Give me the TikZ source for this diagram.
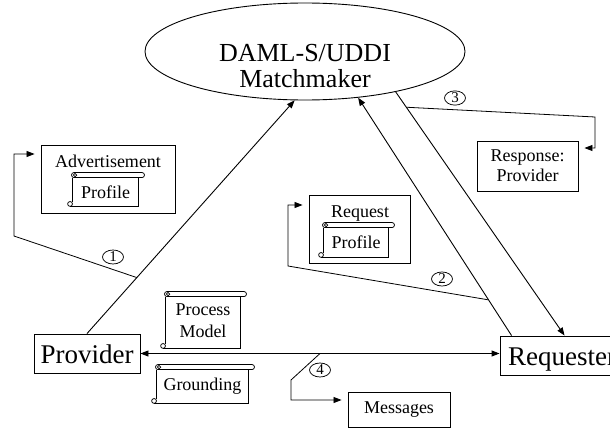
\documentclass[tikz,border=0pt]{standalone}
\usepackage{fontspec}
\setmainfont{Liberation Serif}
\usetikzlibrary{shapes.geometric,arrows.meta,calc}
\newcommand\scrolldeco[1]{%
  \draw[thinline, rounded corners=2.4pt] ($(#1.north west)+(-1,-5)$) rectangle ($(#1.north east)+(6,0)$);
  \draw[thinline] ($(#1.north west)+(2.5,-2.5)$) circle[radius=1.7pt];
  \draw[thinline] (#1.north west) -- ($(#1.south west)+(0,-4)$);
  \draw[thinline] ($(#1.south west)+(-2.5,-2.5)$) circle[radius=2.4pt];
  \draw[thinline] ($(#1.south west)+(-2.5,0)$) -- (#1.south east) -- (#1.north east);
}
\begin{document}
\begin{tikzpicture}[x=1pt,y=-1pt,line width=0.9pt,
  box/.style={draw, rectangle, inner sep=0pt},
  big/.style={font=\fontsize{27}{29}\selectfont},
  mid/.style={font=\fontsize{18}{20}\selectfont},
  thinline/.style={line width=0.75pt},
  num/.style={draw, ellipse, minimum width=21pt, minimum height=14pt, inner sep=0pt, line width=0.75pt, font=\fontsize{15}{15}\selectfont},
  tip/.tip={Triangle[length=8pt,width=6pt]},
  arr/.style={-tip},
  call/.style={-tip, shorten >=6pt, line width=0.8pt},
  scrollbody/.style={inner sep=0pt, font=\fontsize{18}{22}\selectfont, align=center}
]
\useasboundingbox (0,0) rectangle (610,428);

% main nodes
\node[draw, ellipse, minimum width=320pt, minimum height=97pt, inner sep=0pt] (mm) at (305,51.5) {};
\node[font=\fontsize{26}{26}\selectfont, align=center, anchor=base] (mmtext) at (305,88) {DAML-S/UDDI\\Matchmaker};
\node[box, big, text height=29pt, text depth=10pt, minimum width=106pt, anchor=base] (prov) at (87,363) {Provider};
\node[box, big, text height=29pt, text depth=10pt, minimum width=124pt, anchor=base] (req) at (562,365) {Requester};

% boxes
\node[box, minimum width=134pt, minimum height=68pt] (adv) at (108,179) {};
\node[mid, anchor=base] (advtext) at (108,167) {Advertisement};
\node[box, minimum width=101pt, minimum height=68pt] (reqbox) at (359.5,229) {};
\node[mid, anchor=base] (reqtext) at (360,217) {Request};
\node[box, mid, align=center, minimum width=101pt, minimum height=50pt] (resp) at (527.5,166) {Response:\\Provider};
\node[box, mid, minimum width=102pt, minimum height=35pt] (mess) at (399,409.5) {Messages};

% scrolls
\node[scrollbody, minimum width=65pt, minimum height=28pt] (advprof) at (105.5,192) {Profile};
\scrolldeco{advprof}
\node[scrollbody, minimum width=64pt, minimum height=29pt] (reqprof) at (356,242.5) {Profile};
\scrolldeco{reqprof}
\node[scrollbody, minimum width=74pt, minimum height=51pt, text depth=4pt] (pm) at (203,322.5) {Process\\Model};
\scrolldeco{pm}
\node[scrollbody, minimum width=91pt, minimum height=33pt] (gr) at (202.5,386.5) {Grounding};
\scrolldeco{gr}

% main connectors
\coordinate (rqs) at ($(req.north west)+(12,0)$);
\coordinate (rqe) at ($(req.north west)+(65,0)$);
\draw[arr] (prov.north) -- (mm.258);
\draw[arr] (rqs) -- (mm.319);
\draw[arr] (mm.336) -- (rqe);
\draw[tip-tip] (prov.east) -- (prov.east -| req.west);

% callouts
\coordinate (c1a) at ($(prov.north)!0.24!(mm.258)$);
\coordinate (c1b) at (14,236);
\coordinate (c1c) at (14,154);
\draw[call] (c1a) -- (c1b) -- (c1c) -- (c1c -| adv.west);
\node[num] (n1) at (113,257) {1};

\coordinate (c2a) at ($(rqs)!0.15!(mm.319)$);
\coordinate (c2b) at (288,266);
\coordinate (c2c) at (288,205);
\draw[call] (c2a) -- (c2b) -- (c2c) -- (c2c -| reqbox.west);
\node[num] (n2) at (442,279) {2};

\coordinate (c3a) at ($(mm.336)!0.063!(rqe)$);
\coordinate (c3b) at (595,117);
\coordinate (c3c) at (595,148);
\draw[call] (c3a) -- (c3b) -- (c3c) -- (c3c -| resp.east);
\node[num] (n3) at (455,98) {3};

\coordinate (c4a) at (320,353.5);
\coordinate (c4b) at (291,380);
\coordinate (c4c) at (291,400);
\draw[call] (c4a) -- (c4b) -- (c4c) -- (c4c -| mess.west);
\node[num] (n4) at (320,370) {4};
\end{tikzpicture}
\end{document}
